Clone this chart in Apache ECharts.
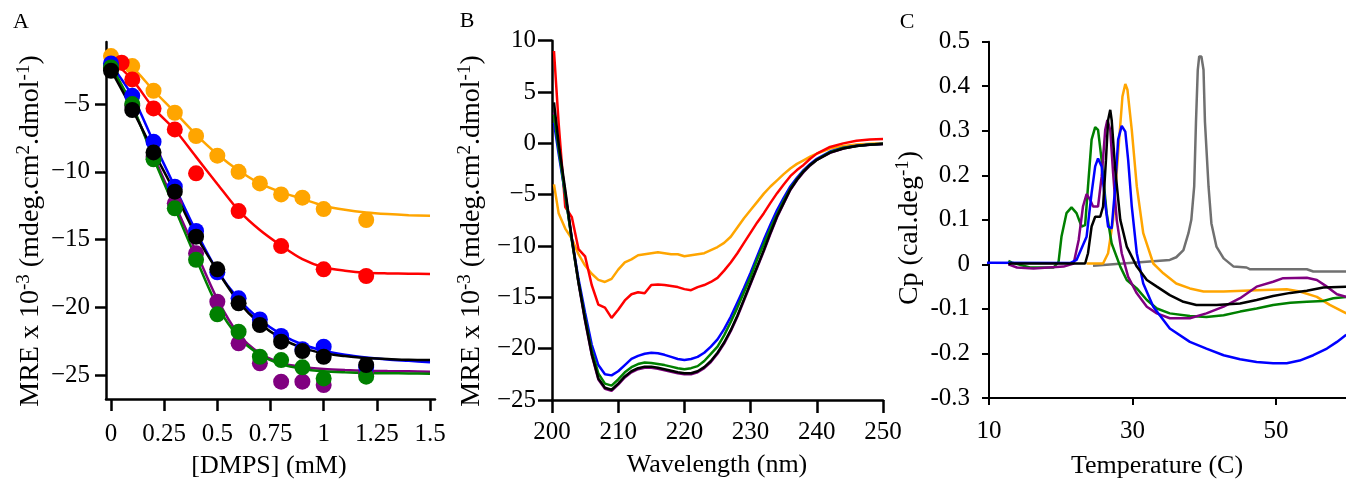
<!DOCTYPE html>
<html><head><meta charset="utf-8">
<script src="https://cdn.jsdelivr.net/npm/echarts@6/dist/echarts.min.js"></script>
<style>html,body{margin:0;padding:0;background:#fff}#c{width:1346px;height:481px}</style>
</head><body><div id="c"></div><script>
// ---------- Panel A data ----------
const concPts = [0, 0.1, 0.2, 0.3, 0.4, 0.5, 0.6, 0.7, 0.8, 0.9, 1.0, 1.2];
const orangePts = [-1.46, -2.2, -4.02, -5.64, -7.36, -8.81, -10.0, -10.86, -11.67, -11.91, -12.75, -13.56];
const redConc = [0.05, 0.1, 0.2, 0.3, 0.4, 0.6, 0.8, 1.0, 1.2];
const redPts = [-1.95, -3.18, -5.32, -6.87, -10.11, -12.9, -15.48, -17.2, -17.69];
const bluePts = [-2.0, -4.39, -7.78, -11.1, -14.37, -17.42, -19.34, -20.9, -22.12, -23.1, -22.91, -24.4];
const blackPts = [-2.54, -5.44, -8.57, -11.47, -14.79, -17.2, -19.71, -21.31, -22.54, -23.23, -23.65, -24.26];
const greenPts = [-2.3, -5.0, -9.08, -12.7, -16.5, -20.52, -21.8, -23.65, -23.9, -24.43, -25.25, -25.12];
const purplePts = [-2.2, -5.1, -8.9, -12.33, -16.02, -19.59, -22.66, -24.14, -25.49, -25.49, -25.74, -24.9];
const fitConc = [0, 0.1, 0.2, 0.3, 0.4, 0.5, 0.6, 0.7, 0.8, 0.9, 1.0, 1.1, 1.2, 1.3, 1.4, 1.5];
const orangeFit = [-1.46, -2.3, -4.0, -5.6, -7.25, -8.7, -9.9, -10.85, -11.5, -12.0, -12.5, -12.8, -13.0, -13.12, -13.2, -13.25];
const redFit = [-1.7, -3.2, -5.3, -6.9, -8.9, -10.9, -12.85, -14.3, -15.45, -16.45, -17.05, -17.3, -17.45, -17.5, -17.52, -17.55];
const blueFit = [-2.1, -4.4, -7.8, -11.1, -14.4, -17.3, -19.4, -20.9, -22.0, -22.75, -23.2, -23.5, -23.7, -23.85, -23.95, -24.05];
const blackFit = [-2.5, -5.4, -8.5, -11.5, -14.7, -17.3, -19.6, -21.2, -22.3, -23.0, -23.4, -23.6, -23.75, -23.82, -23.88, -23.9];
const greenFit = [-2.2, -5.1, -9.0, -12.7, -16.4, -19.9, -22.2, -23.5, -24.2, -24.55, -24.72, -24.8, -24.85, -24.87, -24.88, -24.9];
const purpleFit = [-2.3, -5.2, -8.8, -12.4, -15.9, -19.4, -22.0, -23.4, -24.1, -24.4, -24.55, -24.63, -24.68, -24.71, -24.73, -24.75];
const aXTicks = [0, 0.25, 0.5, 0.75, 1, 1.25, 1.5];
const aYTicks = [-25, -20, -15, -10, -5];

// ---------- Panel B data ----------
const wl = [200.3, 201, 202, 203, 204, 205, 206, 207, 208, 209, 210, 211, 212, 213, 214, 215, 216, 217, 218, 219, 220, 221, 222, 223, 224, 225, 226, 227, 228, 229, 230, 231, 232, 233, 234, 235, 236, 237, 238, 239, 240, 242, 244, 246, 248, 250];
const cdOrange = [-4.0, -6.8, -8.3, -9.3, -10.8, -11.9, -12.7, -13.3, -13.5, -13.2, -12.3, -11.6, -11.3, -10.9, -10.8, -10.7, -10.6, -10.7, -10.8, -10.8, -11.0, -10.9, -10.8, -10.7, -10.4, -10.1, -9.7, -9.1, -8.2, -7.3, -6.5, -5.7, -4.9, -4.2, -3.6, -3.0, -2.45, -2.0, -1.65, -1.3, -1.0, -0.5, -0.25, -0.1, -0.05, 0.0];
const cdRed = [9.0, 2.0, -6.2, -7.2, -10.3, -11.0, -13.8, -15.7, -16.0, -17.0, -16.2, -15.3, -14.7, -14.5, -14.6, -13.8, -13.75, -13.8, -13.9, -14.0, -14.2, -14.3, -14.0, -13.8, -13.5, -13.1, -12.4, -11.6, -10.7, -9.7, -8.7, -7.7, -6.8, -5.8, -4.85, -4.0, -3.2, -2.6, -2.1, -1.5, -1.0, -0.35, 0.0, 0.25, 0.38, 0.42];
const cdBlue = [2.0, -1.0, -5.0, -9.3, -13.2, -16.5, -19.6, -21.6, -22.5, -22.6, -22.2, -21.6, -21.0, -20.7, -20.5, -20.4, -20.45, -20.6, -20.8, -21.0, -21.1, -21.0, -20.8, -20.4, -19.8, -19.1, -18.1, -16.9, -15.5, -14.1, -12.6, -11.0, -9.4, -7.9, -6.5, -5.3, -4.2, -3.35, -2.6, -2.0, -1.5, -0.8, -0.42, -0.23, -0.1, -0.03];
const cdGreen = [2.8, -0.5, -5.0, -9.5, -13.5, -17.0, -20.2, -22.4, -23.4, -23.6, -23.0, -22.3, -21.8, -21.5, -21.35, -21.4, -21.5, -21.6, -21.75, -21.9, -22.0, -21.9, -21.7, -21.2, -20.5, -19.8, -18.7, -17.4, -16.0, -14.5, -13.0, -11.3, -9.8, -8.3, -6.9, -5.6, -4.4, -3.5, -2.7, -2.1, -1.6, -0.85, -0.45, -0.25, -0.12, -0.05];
const cdBlack = [4.0, 0.0, -4.5, -9.3, -13.5, -17.2, -20.5, -22.9, -23.8, -24.0, -23.4, -22.7, -22.2, -21.9, -21.75, -21.75, -21.85, -22.0, -22.15, -22.3, -22.4, -22.4, -22.2, -21.8, -21.2, -20.4, -19.4, -18.2, -16.8, -15.2, -13.6, -12.0, -10.4, -8.7, -7.1, -5.8, -4.5, -3.55, -2.75, -2.1, -1.6, -0.9, -0.5, -0.26, -0.13, -0.06];
const cdPurple = [3.0, -0.3, -4.8, -9.4, -13.6, -17.3, -20.6, -23.0, -23.9, -24.1, -23.5, -22.8, -22.3, -22.0, -21.85, -21.85, -21.95, -22.1, -22.25, -22.4, -22.5, -22.5, -22.3, -21.9, -21.3, -20.5, -19.5, -18.3, -16.9, -15.3, -13.7, -12.1, -10.5, -8.8, -7.2, -5.85, -4.55, -3.6, -2.8, -2.15, -1.62, -0.92, -0.5, -0.26, -0.13, -0.06];

// ---------- Panel C data ----------
const tGray = [24.5, 35.2, 36.1, 37.1, 37.8, 38.2, 38.6, 38.85, 39.1, 39.3, 39.6, 39.9, 40.1, 40.6, 41.0, 41.7, 42.7, 44.1, 45.9, 46.4, 54.3, 55.2, 59.8];
const cpGray = [-0.003, 0.01, 0.016, 0.032, 0.07, 0.1, 0.175, 0.32, 0.437, 0.467, 0.467, 0.437, 0.32, 0.175, 0.092, 0.04, 0.0135, -0.005, -0.007, -0.011, -0.011, -0.016, -0.016];
const tBlue = [7.8, 8.5, 21.3, 22.2, 23.6, 24.3, 24.8, 25.2, 25.7, 26.2, 26.6, 27.1, 27.6, 28.0, 28.5, 29.0, 29.4, 29.9, 30.6, 31.5, 32.9, 35.2, 38.0, 40.3, 42.7, 45.0, 47.3, 49.6, 51.5, 53.3, 55.2, 57.1, 58.5, 59.8];
const cpBlue = [-0.005, 0.004, 0.003, 0.01, 0.062, 0.16, 0.22, 0.238, 0.22, 0.137, 0.085, 0.081, 0.175, 0.28, 0.311, 0.298, 0.234, 0.13, 0.025, -0.043, -0.095, -0.144, -0.174, -0.189, -0.204, -0.213, -0.219, -0.222, -0.222, -0.216, -0.204, -0.189, -0.174, -0.158];
const tGreen = [12.7, 13.2, 15.7, 19.0, 19.7, 20.1, 20.8, 21.5, 22.2, 22.9, 23.4, 23.8, 24.3, 24.8, 25.2, 25.7, 26.4, 27.1, 28.3, 29.2, 30.6, 32.0, 33.4, 35.2, 38.0, 40.3, 42.7, 45.0, 47.3, 49.6, 52.0, 54.3, 56.6, 58.0, 59.8];
const cpGreen = [0.008, 0.004, -0.007, -0.007, 0.006, 0.062, 0.115, 0.128, 0.115, 0.085, 0.088, 0.175, 0.28, 0.308, 0.302, 0.234, 0.115, 0.047, -0.005, -0.035, -0.054, -0.08, -0.099, -0.11, -0.116, -0.118, -0.114, -0.106, -0.099, -0.091, -0.086, -0.084, -0.082, -0.076, -0.073];
const tPurple = [12.7, 13.9, 16.2, 20.4, 21.8, 22.5, 23.1, 23.6, 24.1, 24.5, 25.2, 25.7, 26.2, 26.5, 26.9, 27.3, 27.8, 28.5, 29.4, 30.6, 32.0, 33.4, 35.2, 38.0, 40.3, 42.7, 45.0, 47.3, 49.6, 51.0, 54.3, 55.7, 57.1, 58.5, 59.8];
const cpPurple = [0, -0.007, -0.009, -0.005, 0.002, 0.055, 0.13, 0.158, 0.145, 0.13, 0.13, 0.197, 0.302, 0.324, 0.302, 0.205, 0.1, 0.025, -0.028, -0.065, -0.095, -0.11, -0.121, -0.121, -0.11, -0.095, -0.076, -0.05, -0.039, -0.031, -0.03, -0.035, -0.05, -0.067, -0.073];
const tBlack = [12.7, 13.0, 23.4, 23.8, 24.3, 24.8, 25.5, 25.9, 26.3, 26.6, 26.9, 27.1, 27.6, 28.3, 29.2, 30.6, 32.0, 33.4, 35.2, 37.1, 38.9, 41.7, 45.0, 47.3, 49.6, 52.0, 54.3, 56.6, 59.8];
const cpBlack = [0, 0.002, 0.002, 0.025, 0.085, 0.107, 0.107, 0.13, 0.234, 0.324, 0.347, 0.324, 0.212, 0.1, 0.04, -0.005, -0.035, -0.05, -0.069, -0.084, -0.091, -0.091, -0.088, -0.08, -0.071, -0.064, -0.059, -0.052, -0.05];
const tOrange = [23.6, 25.9, 26.6, 27.3, 28.0, 28.6, 29.0, 29.3, 29.9, 30.6, 31.5, 32.9, 34.3, 36.1, 38.0, 39.9, 42.7, 47.3, 51.5, 53.3, 55.7, 57.5, 59.8];
const cpOrange = [0.002, 0.002, 0.025, 0.1, 0.25, 0.377, 0.405, 0.392, 0.302, 0.175, 0.07, 0.002, -0.02, -0.043, -0.054, -0.061, -0.061, -0.058, -0.056, -0.061, -0.073, -0.091, -0.11];
const cXTicks = [10, 30, 50];

// ---------- helpers ----------
const FONT = '"Liberation Serif", "Times New Roman", serif';
const zip = (xs, ys) => xs.map((x, i) => [x, ys[i]]);
const COL = {orange:'#FFA500', red:'#FF0000', blue:'#0000FF', black:'#000000', green:'#008000', purple:'#800080', gray:'#707070'};

function axis(opts) {
  const a = {
    type: 'value', gridIndex: opts.grid, min: opts.min, max: opts.max,
    axisLine: {show: true, onZero: false, lineStyle: {color: '#000', width: opts.lw || 2}},
    axisTick: {show: true, inside: false, length: opts.tick, lineStyle: {color: '#000', width: opts.lw || 2}},
    axisLabel: {show: true, margin: opts.margin, fontSize: 25, fontFamily: FONT, color: '#000', formatter: opts.fmt, showMinLabel: true, showMaxLabel: true},
    splitLine: {show: false}
  };
  if (opts.interval) a.interval = opts.interval;
  if (opts.ticks) { a.axisTick.customValues = opts.ticks; a.axisLabel.customValues = opts.ticks; }
  return a;
}
const minusFmt = v => (v < 0 ? '\u2212' + Math.abs(v) : String(v));

const chart = echarts.init(document.getElementById('c'), null, {renderer: 'canvas'});

function lineSeries(name, xi, data, color, width, extra) {
  return Object.assign({type: 'line', name, xAxisIndex: xi, yAxisIndex: xi, data, showSymbol: false, symbol: 'none',
    lineStyle: {color, width}, itemStyle: {color}, animation: false, z: 2}, extra || {});
}
function scatterSeries(name, data, color, z) {
  return {type: 'scatter', name, xAxisIndex: 0, yAxisIndex: 0, data, symbolSize: 16, itemStyle: {color, opacity: 1}, z: z, animation: false};
}

const series = [
  lineSeries('oFit', 0, zip(fitConc, orangeFit), COL.orange, 2.5, {smooth: 0.3}),
  lineSeries('rFit', 0, zip(fitConc, redFit), COL.red, 2.5, {smooth: 0.3}),
  lineSeries('pFit', 0, zip(fitConc, purpleFit), COL.purple, 2.5, {smooth: 0.3}),
  lineSeries('bFit', 0, zip(fitConc, blueFit), COL.blue, 2.5, {smooth: 0.3}),
  lineSeries('gFit', 0, zip(fitConc, greenFit), COL.green, 2.5, {smooth: 0.3}),
  lineSeries('kFit', 0, zip(fitConc, blackFit), COL.black, 2.5, {smooth: 0.3}),
  scatterSeries('o', zip(concPts, orangePts), COL.orange, 3),
  scatterSeries('r', zip(redConc, redPts), COL.red, 4),
  scatterSeries('p', zip(concPts, purplePts), COL.purple, 5),
  scatterSeries('b', zip(concPts, bluePts), COL.blue, 6),
  scatterSeries('g', zip(concPts, greenPts), COL.green, 7),
  scatterSeries('k', zip(concPts, blackPts), COL.black, 8),

  lineSeries('cdO', 1, zip(wl, cdOrange), COL.orange, 2.5),
  lineSeries('cdR', 1, zip(wl, cdRed), COL.red, 2.5),
  lineSeries('cdP', 1, zip(wl, cdPurple), COL.purple, 2.5),
  lineSeries('cdB', 1, zip(wl, cdBlue), COL.blue, 2.5),
  lineSeries('cdG', 1, zip(wl, cdGreen), COL.green, 2.5),
  lineSeries('cdK', 1, zip(wl, cdBlack), COL.black, 2.5),

  lineSeries('dGray', 2, zip(tGray, cpGray), COL.gray, 2.5),
  lineSeries('dO', 2, zip(tOrange, cpOrange), COL.orange, 2.5),
  lineSeries('dG', 2, zip(tGreen, cpGreen), COL.green, 2.5),
  lineSeries('dP', 2, zip(tPurple, cpPurple), COL.purple, 2.5),
  lineSeries('dB', 2, zip(tBlue, cpBlue), COL.blue, 2.5, {clip: false}),
  lineSeries('dK', 2, zip(tBlack, cpBlack), COL.black, 2.5)
];

const titleRich = {
  n: {fontSize: 28, fontFamily: FONT, lineHeight: 32, fill: '#000', color: '#000'},
  s: {fontSize: 19, fontFamily: FONT, lineHeight: 19, verticalAlign: 'top', fill: '#000', color: '#000'}
};
function vTitle(x, y, text) {
  return {type: 'text', x, y, rotation: Math.PI / 2, style: {text, rich: titleRich, fontSize: 28, fontFamily: FONT, fill: '#000', align: 'center', verticalAlign: 'middle'}};
}
function hText(x, y, text, size) {
  return {type: 'text', x, y, style: {text, fontSize: size, fontFamily: FONT, fill: '#000', align: 'center', verticalAlign: 'middle'}};
}

chart.setOption({
  animation: false,
  backgroundColor: '#fff',
  grid: [
    {left: 106, top: 42, width: 329, height: 357},
    {left: 552, top: 40.7, width: 331, height: 359.3},
    {left: 989, top: 41.7, width: 357, height: 356.3}
  ],
  xAxis: [
    axis({grid: 0, min: -0.0235, max: 1.5235, tick: 12, margin: 23, ticks: aXTicks, fmt: v => String(v), lw: 2.5}),
    axis({grid: 1, min: 200, max: 250, interval: 10, tick: 13, margin: 20, fmt: v => String(v), lw: 2.5}),
    axis({grid: 2, min: 10, max: 59.76, tick: 7, margin: 21, ticks: cXTicks, fmt: v => String(v), lw: 2})
  ],
  yAxis: [
    axis({grid: 0, min: -26.77, max: -0.42, tick: 11, margin: 16, ticks: aYTicks, fmt: minusFmt, lw: 2.5}),
    axis({grid: 1, min: -25, max: 10, interval: 5, tick: 14, margin: 16, fmt: minusFmt, lw: 2.5}),
    axis({grid: 2, min: -0.3, max: 0.5, interval: 0.1, tick: 7, margin: 19, fmt: v => (Math.abs(v) < 1e-9 ? '0' : v.toFixed(1)), lw: 2})
  ],
  series,
  graphic: [
    hText(21, 22, 'A', 22),
    hText(467, 21, 'B', 22),
    hText(907, 22, 'C', 22),
    vTitle(31, 231, '{n|MRE x 10}{s|-3}{n| (mdeg.cm}{s|2}{n|.dmol}{s|-1}{n|)}'),
    vTitle(472, 231, '{n|MRE x 10}{s|-3}{n| (mdeg.cm}{s|2}{n|.dmol}{s|-1}{n|)}'),
    vTitle(910, 228, '{n|Cp (cal.deg}{s|-1}{n|)}'),
    hText(269, 466, '[DMPS] (mM)', 26),
    hText(717, 465, 'Wavelength (nm)', 26),
    hText(1157, 466, 'Temperature (C)', 26)
  ]
});
</script></body></html>
